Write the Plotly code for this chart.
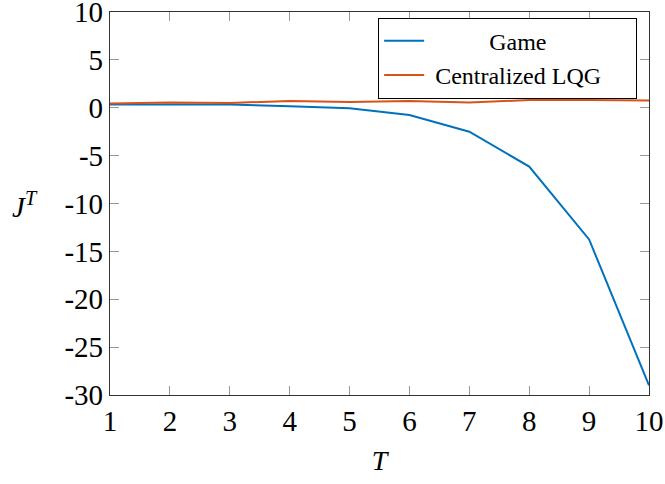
import plotly.graph_objects as go

T = [1, 2, 3, 4, 5, 6, 7, 8, 9, 10]
game = [0.35, 0.35, 0.35, 0.15, -0.05, -0.75, -2.5, -6.15, -13.75, -29.0]
centralized_lqg = [0.45, 0.55, 0.5, 0.7, 0.6, 0.7, 0.55, 0.8, 0.8, 0.75]

y_ticks = [10, 5, 0, -5, -10, -15, -20, -25, -30]
y_tick_text = ["10", "5", "0", "-5", "-10", "-15", "-20", "-25", "-30"]

FONT = "Liberation Serif, Times New Roman, serif"
NBSP = "\u00a0"

fig = go.Figure()
fig.add_trace(go.Scatter(x=T, y=game, mode="lines",
                         name=NBSP * 10 + "Game",
                         line=dict(color="#0072BD", width=2)))
fig.add_trace(go.Scatter(x=T, y=centralized_lqg, mode="lines",
                         name=NBSP + "Centralized LQG" + NBSP * 5,
                         line=dict(color="#D95319", width=2)))

axis_common = dict(
    showgrid=False, zeroline=False, automargin=False,
    showline=True, linecolor="#333333", linewidth=1.2, mirror="ticks",
    ticks="inside", ticklen=9, tickcolor="#999999", tickwidth=1,
    ticklabeloverflow="allow",
    tickfont=dict(family=FONT, size=29, color="black"),
)

fig.update_xaxes(range=[1, 10], tickvals=T, ticktext=[str(t) for t in T],
                 title=dict(text="<i>T</i>", font=dict(family=FONT, size=28, color="black"),
                            standoff=14),
                 **axis_common)
fig.update_yaxes(range=[-30, 10], tickvals=y_ticks, ticktext=y_tick_text,
                 **axis_common)

fig.add_annotation(text="<i>J</i><sup><i>T</i></sup>", xref="paper", yref="paper",
                   x=-0.1855, y=0.495, xanchor="left", yanchor="middle",
                   showarrow=False,
                   font=dict(family=FONT, size=29, color="black"))

fig.update_layout(
    width=665, height=484,
    margin=dict(l=110, r=16, t=12, b=89),
    plot_bgcolor="white", paper_bgcolor="white",
    font=dict(family=FONT),
    showlegend=True,
    legend=dict(x=0.978, y=0.985, xanchor="right", yanchor="top",
                bgcolor="white", bordercolor="black", borderwidth=1,
                font=dict(family=FONT, size=24, color="black"),
                itemwidth=40, tracegroupgap=0),
)

fig.write_html("out.html")
